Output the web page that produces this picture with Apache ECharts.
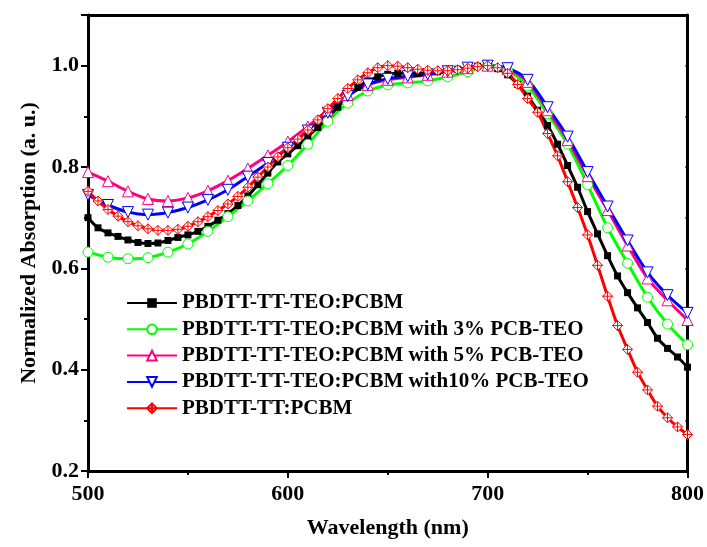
<!DOCTYPE html>
<html>
<head>
<meta charset="utf-8">
<script src="https://cdn.jsdelivr.net/npm/echarts@6/dist/echarts.min.js"></script>
<style>
  html, body { margin: 0; padding: 0; background: #fff; }
  #chart { width: 707px; height: 547px; }
</style>
</head>
<body>
<div id="chart"></div>
<script>
// wavelength grids (nm)
const wl5 = [500,505,510,515,520,525,530,535,540,545,550,555,560,565,570,575,580,585,590,595,
  600,605,610,615,620,625,630,635,640,645,650,655,660,665,670,675,680,685,690,695,
  700,705,710,715,720,725,730,735,740,745,750,755,760,765,770,775,780,785,790,795,800];
const wl10 = [500,510,520,530,540,550,560,570,580,590,600,610,620,630,640,650,660,670,680,690,
  700,710,720,730,740,750,760,770,780,790,800];

// PBDTT-TT-TEO:PCBM
const teoPcbm = [0.700,0.680,0.670,0.663,0.656,0.651,0.649,0.650,0.655,0.661,0.666,0.673,0.683,0.695,0.708,0.724,0.743,0.765,0.788,0.810,
  0.826,0.842,0.860,0.878,0.897,0.918,0.940,0.957,0.970,0.978,0.983,0.985,0.985,0.985,0.986,0.988,0.990,0.993,0.996,0.999,
  1.000,0.994,0.982,0.963,0.940,0.912,0.882,0.845,0.803,0.760,0.712,0.668,0.625,0.585,0.552,0.522,0.493,0.462,0.442,0.425,0.405];
// with 3% PCB-TEO
const teo3 = [0.632,0.622,0.619,0.621,0.632,0.648,0.673,0.702,0.733,0.767,0.803,0.845,0.890,0.926,0.950,0.962,0.966,0.970,0.978,0.988,
  1.000,0.990,0.960,0.905,0.845,0.765,0.680,0.610,0.543,0.490,0.449];
// with 5% PCB-TEO
const teo5 = [0.790,0.772,0.752,0.737,0.733,0.739,0.753,0.773,0.797,0.823,0.850,0.880,0.912,0.942,0.962,0.972,0.977,0.982,0.988,0.995,
  1.000,0.993,0.968,0.912,0.853,0.782,0.715,0.645,0.580,0.537,0.498];
// with 10% PCB-TEO
const teo10 = [0.745,0.725,0.711,0.706,0.710,0.720,0.735,0.755,0.781,0.808,0.838,0.872,0.907,0.940,0.963,0.974,0.979,0.983,0.989,0.996,
  1.000,0.995,0.972,0.918,0.860,0.790,0.722,0.655,0.592,0.547,0.512];
// PBDTT-TT:PCBM
const ttPcbm = [0.752,0.733,0.716,0.703,0.692,0.684,0.678,0.675,0.675,0.677,0.683,0.692,0.702,0.714,0.727,0.742,0.760,0.780,0.800,0.820,
  0.838,0.855,0.873,0.893,0.915,0.935,0.955,0.972,0.986,0.996,1.000,0.999,0.996,0.993,0.991,0.990,0.990,0.992,0.995,0.998,
  1.000,0.996,0.985,0.963,0.935,0.908,0.866,0.822,0.771,0.720,0.666,0.606,0.545,0.487,0.440,0.395,0.360,0.328,0.305,0.287,0.272];

const names = [
  "PBDTT-TT-TEO:PCBM",
  "PBDTT-TT-TEO:PCBM with 3% PCB-TEO",
  "PBDTT-TT-TEO:PCBM with 5% PCB-TEO",
  "PBDTT-TT-TEO:PCBM with10% PCB-TEO",
  "PBDTT-TT:PCBM"
];

const font = "Liberation Serif";
const zip = (xs, ys) => xs.map((x, i) => [x, ys[i]]);
const crossDiamond = "path://M0,-10L10,0L0,10L-10,0Z M0,-10L0,10 M-10,0L10,0";

const mkSeries = (name, data, color, symbol, size, hollow, rotate) => ({
  name: name,
  type: "line",
  data: data,
  smooth: 0.3,
  symbol: symbol,
  symbolSize: size,
  symbolRotate: rotate || 0,
  showAllSymbol: true,
  lineStyle: { color: color, width: 3 },
  itemStyle: hollow
    ? { color: "#fff", borderColor: color, borderWidth: 1 }
    : { color: color },
  emphasis: { disabled: true },
  animation: false
});

const chart = echarts.init(document.getElementById("chart"));
chart.setOption({
  animation: false,
  grid: { left: 88, right: 19, top: 15, bottom: 76 },
  legend: {
    orient: "vertical",
    left: 121,
    top: 287,
    itemWidth: 50,
    itemHeight: 12,
    itemGap: 4.3,
    textStyle: { fontFamily: font, fontWeight: "bold", fontSize: 21, color: "#000", lineHeight: 22 },
    data: names
  },
  xAxis: [
    {
      type: "value", min: 500, max: 800, interval: 100,
      name: "Wavelength (nm)", nameLocation: "middle", nameGap: 46,
      nameTextStyle: { fontFamily: font, fontWeight: "bold", fontSize: 22, color: "#000" },
      axisLine: { onZero: false, lineStyle: { color: "#000", width: 3 } },
      axisTick: { inside: false, length: 7, lineStyle: { color: "#000", width: 2 } },
      minorTick: { show: true, splitNumber: 2, length: 4, lineStyle: { color: "#000", width: 2 } },
      axisLabel: { margin: 12, fontFamily: font, fontWeight: "bold", fontSize: 22, color: "#000" },
      splitLine: { show: false }
    },
    {
      type: "value", min: 500, max: 800, interval: 50, position: "top",
      axisLine: { onZero: false, lineStyle: { color: "#000", width: 3 } },
      axisTick: { inside: true, length: 2, lineStyle: { color: "#000", width: 2 } },
      axisLabel: { show: false },
      splitLine: { show: false }
    }
  ],
  yAxis: [
    {
      type: "value", min: 0.2, max: 1.1, interval: 0.2,
      name: "Normalized Absorption (a. u.)", nameLocation: "middle", nameGap: 48,
      nameTextStyle: { fontFamily: font, fontWeight: "bold", fontSize: 22, color: "#000" },
      axisLine: { onZero: false, lineStyle: { color: "#000", width: 3 } },
      axisTick: { inside: false, length: 7, lineStyle: { color: "#000", width: 2 } },
      axisLabel: {
        margin: 9, fontFamily: font, fontWeight: "bold", fontSize: 22, color: "#000",
        formatter: (v) => (v > 1.05 ? "" : v.toFixed(1))
      },
      splitLine: { show: false }
    },
    {
      type: "value", min: 0.2, max: 1.1, interval: 0.1, position: "left",
      axisLine: { show: false },
      axisTick: { inside: false, length: 4, lineStyle: { color: "#000", width: 2 } },
      axisLabel: { show: false },
      splitLine: { show: false }
    },
    {
      type: "value", min: 0.2, max: 1.1, interval: 0.1, position: "right",
      axisLine: { onZero: false, lineStyle: { color: "#000", width: 3 } },
      axisTick: { inside: true, length: 2, lineStyle: { color: "#000", width: 2 } },
      axisLabel: { show: false },
      splitLine: { show: false }
    }
  ],
  series: [
    mkSeries(names[0], zip(wl5, teoPcbm), "#000000", "rect", 7, false),
    mkSeries(names[1], zip(wl10, teo3), "#00ff00", "circle", 10, true),
    mkSeries(names[2], zip(wl10, teo5), "#ff0080", "triangle", 11, true),
    mkSeries(names[3], zip(wl10, teo10), "#0000ff", "triangle", 11, true, 180),
    mkSeries(names[4], zip(wl5, ttPcbm), "#ff0000", crossDiamond, 10, true)
  ]
});
</script>
</body>
</html>
